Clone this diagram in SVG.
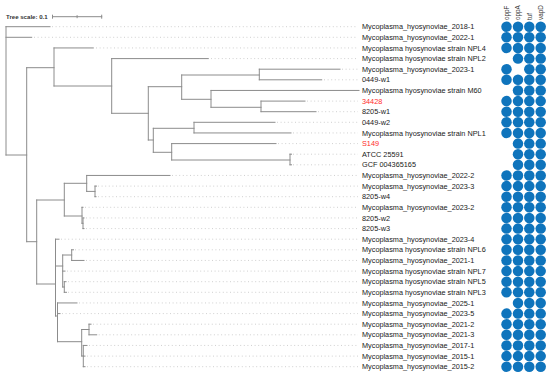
<svg xmlns="http://www.w3.org/2000/svg" width="550" height="378" viewBox="0 0 550 378">
<style>
.br{fill:none;stroke:#8c8c8c;stroke-width:1;stroke-linecap:square}
.ld{fill:none;stroke:#c4c4c4;stroke-width:0.8;stroke-dasharray:1 2.6}
.lb{font-family:"Liberation Sans",Arial,sans-serif;font-size:7.3px;fill:#1a1a1a}
.red{fill:#ff2b2b}
.hd{font-family:"Liberation Sans",Arial,sans-serif;font-size:6.3px;fill:#333}
.sc{font-family:"Liberation Sans",Arial,sans-serif;font-size:6.1px;font-weight:bold;fill:#333}
.dt{fill:#0f74bc}
</style>
<rect width="550" height="378" fill="#fff"/>
<g id="scale">
<text class="sc" x="6" y="19">Tree scale: 0.1</text>
<path class="br" d="M52.5,16.7H101.7M52.5,15.2V18.2M101.7,15.2V18.2M77.1,15.7V17.7" stroke-width="0.8"/>
</g>
<g id="headers">
<text class="hd" transform="translate(509,20) rotate(-90)">oppF</text>
<text class="hd" transform="translate(520.3,20) rotate(-90)">oppA</text>
<text class="hd" transform="translate(531.5,20) rotate(-90)">tuf</text>
<text class="hd" transform="translate(542.8,20) rotate(-90)">vapD</text>
</g>
<g id="connectors">
<g id="leaders">
<path class="ld" d="M52,26.7H358M34,37.3H358M96,47.95H358M211,58.6H358M342,69.2H358M324,79.8H358M307,101.1H358M318,111.7H358M277,122.3H358M293,132.95H358M278,143.6H358M293,154.2H358M293,164.8H358M172,175.45H358M98,186.1H358M98,196.7H358M85,207.3H358M86,217.95H358M86,228.6H358M61,239.2H358M75,249.8H358M86,260.45H358M67,271.1H358M68,281.7H358M68,292.3H358M79,302.95H358M62,313.6H358M93,324.2H358M98.7,334.8H358M89,345.45H358M87,356.1H358M87,366.7H358"/>
</g>
<g id="branches">
<path class="br" d="M6,26.7V155M6,26.7H50M6,37.3H31.7M6,155H26.7M26.7,67.7V241.7
M26.7,67.7H54M54,47.95V86M54,47.95H93.3M54,86H111.7M111.7,58.6V113.3M111.7,58.6H208.3
M111.7,113.3H148.3M148.3,86.7V140M148.3,86.7H181.7M181.7,75V99.3M181.7,75H259.3M259.3,69.2V79.8M259.3,69.2H340M259.3,79.8H321.7
M181.7,99.3H211M211,90.45V107.3M211,90.45H359M211,107.3H261M261,101.1V111.7M261,101.1H305M261,111.7H316
M148.3,140H153.3M153.3,128.3V152.3M153.3,128.3H194M194,122.3V132.95M194,122.3H275M194,132.95H291
M153.3,152.3H171.7M171.7,143.6V160M171.7,143.6H276M171.7,160H290M290,154.2V164.8M290,154.2H291.5M290,164.8H291.5
M26.7,241.7H36.7M36.7,200V284M36.7,200H64.3M64.3,183.3V216M64.3,183.3H86.7M86.7,175.45V191.4M86.7,175.45H170
M86.7,191.4H95M95,186.1V196.7M95,186.1H96.5M95,196.7H96
M64.3,216H82M82,207.3V223.3M82,207.3H83M82,223.3H83M83,217.95V228.6M83,217.95H84M83,228.6H84
M36.7,284H55.5M55.5,239.2V316M55.5,239.2H59M55.5,266H62.7M62.7,255V287M62.7,255H71.7M71.7,249.8V260.45M71.7,249.8H73.5M71.7,260.45H84
M62.7,271.1H65M62.7,287H64.3M64.3,281.7V292.3M64.3,281.7H66M64.3,292.3H66.5
M55.5,316H57.5M57.5,302.95V341.7M57.5,302.95H77M57.5,313.6H60M57.5,341.7H81.7M81.7,329.5V356
M81.7,329.5H89M89,324.2V334.8M89,324.2H91M89,334.8H96.7M81.7,356H83.3M83.3,345.45V366.7M83.3,345.45H87M83.3,356.1H85M83.3,366.7H85"/>
</g>
</g>
<defs>
<circle id="d" r="5.25" class="dt"/>
</defs>
<g id="leaf-2018-1"><text class="lb" x="362" y="29.3">Mycoplasma_hyosynoviae_2018-1</text><use href="#d" x="506.5" y="26.7"/><use href="#d" x="518" y="26.7"/><use href="#d" x="529.3" y="26.7"/><use href="#d" x="540.7" y="26.7"/></g>
<g id="leaf-2022-1"><text class="lb" x="362" y="39.9">Mycoplasma_hyosynoviae_2022-1</text><use href="#d" x="506.5" y="37.3"/><use href="#d" x="518" y="37.3"/><use href="#d" x="529.3" y="37.3"/><use href="#d" x="540.7" y="37.3"/></g>
<g id="leaf-NPL4"><text class="lb" x="362" y="50.55">Mycoplasma hyosynoviae strain NPL4</text><use href="#d" x="506.5" y="47.95"/><use href="#d" x="518" y="47.95"/><use href="#d" x="529.3" y="47.95"/><use href="#d" x="540.7" y="47.95"/></g>
<g id="leaf-NPL2"><text class="lb" x="362" y="61.2">Mycoplasma hyosynoviae strain NPL2</text><use href="#d" x="518" y="58.6"/><use href="#d" x="529.3" y="58.6"/><use href="#d" x="540.7" y="58.6"/></g>
<g id="leaf-2023-1"><text class="lb" x="362" y="71.8">Mycoplasma_hyosynoviae_2023-1</text><use href="#d" x="506.5" y="69.2"/><use href="#d" x="529.3" y="69.2"/><use href="#d" x="540.7" y="69.2"/></g>
<g id="leaf-0449-w1"><text class="lb" x="362" y="82.4">0449-w1</text><use href="#d" x="506.5" y="79.8"/><use href="#d" x="518" y="79.8"/><use href="#d" x="529.3" y="79.8"/><use href="#d" x="540.7" y="79.8"/></g>
<g id="leaf-M60"><text class="lb" x="362" y="93.05">Mycoplasma hyosynoviae strain M60</text><use href="#d" x="518" y="90.45"/><use href="#d" x="529.3" y="90.45"/><use href="#d" x="540.7" y="90.45"/></g>
<g id="leaf-34428"><text class="lb red" x="362" y="103.7">34428</text><use href="#d" x="506.5" y="101.1"/><use href="#d" x="518" y="101.1"/><use href="#d" x="529.3" y="101.1"/><use href="#d" x="540.7" y="101.1"/></g>
<g id="leaf-8205-w1"><text class="lb" x="362" y="114.3">8205-w1</text><use href="#d" x="506.5" y="111.7"/><use href="#d" x="518" y="111.7"/><use href="#d" x="529.3" y="111.7"/><use href="#d" x="540.7" y="111.7"/></g>
<g id="leaf-0449-w2"><text class="lb" x="362" y="124.9">0449-w2</text><use href="#d" x="506.5" y="122.3"/><use href="#d" x="518" y="122.3"/><use href="#d" x="529.3" y="122.3"/><use href="#d" x="540.7" y="122.3"/></g>
<g id="leaf-NPL1"><text class="lb" x="362" y="135.55">Mycoplasma hyosynoviae strain NPL1</text><use href="#d" x="506.5" y="132.95"/><use href="#d" x="518" y="132.95"/><use href="#d" x="529.3" y="132.95"/><use href="#d" x="540.7" y="132.95"/></g>
<g id="leaf-S149"><text class="lb red" x="362" y="146.2">S149</text><use href="#d" x="518" y="143.6"/><use href="#d" x="529.3" y="143.6"/><use href="#d" x="540.7" y="143.6"/></g>
<g id="leaf-ATCC25591"><text class="lb" x="362" y="156.8">ATCC 25591</text><use href="#d" x="518" y="154.2"/><use href="#d" x="529.3" y="154.2"/><use href="#d" x="540.7" y="154.2"/></g>
<g id="leaf-GCF004365165"><text class="lb" x="362" y="167.4">GCF 004365165</text><use href="#d" x="518" y="164.8"/><use href="#d" x="529.3" y="164.8"/><use href="#d" x="540.7" y="164.8"/></g>
<g id="leaf-2022-2"><text class="lb" x="362" y="178.05">Mycoplasma_hyosynoviae_2022-2</text><use href="#d" x="506.5" y="175.45"/><use href="#d" x="518" y="175.45"/><use href="#d" x="529.3" y="175.45"/><use href="#d" x="540.7" y="175.45"/></g>
<g id="leaf-2023-3"><text class="lb" x="362" y="188.7">Mycoplasma_hyosynoviae_2023-3</text><use href="#d" x="506.5" y="186.1"/><use href="#d" x="518" y="186.1"/><use href="#d" x="529.3" y="186.1"/><use href="#d" x="540.7" y="186.1"/></g>
<g id="leaf-8205-w4"><text class="lb" x="362" y="199.3">8205-w4</text><use href="#d" x="506.5" y="196.7"/><use href="#d" x="518" y="196.7"/><use href="#d" x="529.3" y="196.7"/><use href="#d" x="540.7" y="196.7"/></g>
<g id="leaf-2023-2"><text class="lb" x="362" y="209.9">Mycoplasma_hyosynoviae_2023-2</text><use href="#d" x="506.5" y="207.3"/><use href="#d" x="518" y="207.3"/><use href="#d" x="529.3" y="207.3"/><use href="#d" x="540.7" y="207.3"/></g>
<g id="leaf-8205-w2"><text class="lb" x="362" y="220.55">8205-w2</text><use href="#d" x="506.5" y="217.95"/><use href="#d" x="518" y="217.95"/><use href="#d" x="529.3" y="217.95"/><use href="#d" x="540.7" y="217.95"/></g>
<g id="leaf-8205-w3"><text class="lb" x="362" y="231.2">8205-w3</text><use href="#d" x="506.5" y="228.6"/><use href="#d" x="518" y="228.6"/><use href="#d" x="529.3" y="228.6"/><use href="#d" x="540.7" y="228.6"/></g>
<g id="leaf-2023-4"><text class="lb" x="362" y="241.8">Mycoplasma_hyosynoviae_2023-4</text><use href="#d" x="506.5" y="239.2"/><use href="#d" x="518" y="239.2"/><use href="#d" x="529.3" y="239.2"/><use href="#d" x="540.7" y="239.2"/></g>
<g id="leaf-NPL6"><text class="lb" x="362" y="252.4">Mycoplasma hyosynoviae strain NPL6</text><use href="#d" x="506.5" y="249.8"/><use href="#d" x="518" y="249.8"/><use href="#d" x="529.3" y="249.8"/><use href="#d" x="540.7" y="249.8"/></g>
<g id="leaf-2021-1"><text class="lb" x="362" y="263.05">Mycoplasma_hyosynoviae_2021-1</text><use href="#d" x="506.5" y="260.45"/><use href="#d" x="518" y="260.45"/><use href="#d" x="529.3" y="260.45"/><use href="#d" x="540.7" y="260.45"/></g>
<g id="leaf-NPL7"><text class="lb" x="362" y="273.7">Mycoplasma hyosynoviae strain NPL7</text><use href="#d" x="506.5" y="271.1"/><use href="#d" x="518" y="271.1"/><use href="#d" x="529.3" y="271.1"/><use href="#d" x="540.7" y="271.1"/></g>
<g id="leaf-NPL5"><text class="lb" x="362" y="284.3">Mycoplasma hyosynoviae strain NPL5</text><use href="#d" x="506.5" y="281.7"/><use href="#d" x="518" y="281.7"/><use href="#d" x="529.3" y="281.7"/><use href="#d" x="540.7" y="281.7"/></g>
<g id="leaf-NPL3"><text class="lb" x="362" y="294.9">Mycoplasma hyosynoviae strain NPL3</text><use href="#d" x="506.5" y="292.3"/><use href="#d" x="518" y="292.3"/><use href="#d" x="529.3" y="292.3"/><use href="#d" x="540.7" y="292.3"/></g>
<g id="leaf-2025-1"><text class="lb" x="362" y="305.55">Mycoplasma_hyosynoviae_2025-1</text><use href="#d" x="518" y="302.95"/><use href="#d" x="529.3" y="302.95"/><use href="#d" x="540.7" y="302.95"/></g>
<g id="leaf-2023-5"><text class="lb" x="362" y="316.2">Mycoplasma_hyosynoviae_2023-5</text><use href="#d" x="506.5" y="313.6"/><use href="#d" x="518" y="313.6"/><use href="#d" x="529.3" y="313.6"/><use href="#d" x="540.7" y="313.6"/></g>
<g id="leaf-2021-2"><text class="lb" x="362" y="326.8">Mycoplasma_hyosynoviae_2021-2</text><use href="#d" x="506.5" y="324.2"/><use href="#d" x="518" y="324.2"/><use href="#d" x="529.3" y="324.2"/><use href="#d" x="540.7" y="324.2"/></g>
<g id="leaf-2021-3"><text class="lb" x="362" y="337.4">Mycoplasma_hyosynoviae_2021-3</text><use href="#d" x="506.5" y="334.8"/><use href="#d" x="518" y="334.8"/><use href="#d" x="529.3" y="334.8"/><use href="#d" x="540.7" y="334.8"/></g>
<g id="leaf-2017-1"><text class="lb" x="362" y="348.05">Mycoplasma_hyosynoviae_2017-1</text><use href="#d" x="506.5" y="345.45"/><use href="#d" x="518" y="345.45"/><use href="#d" x="529.3" y="345.45"/><use href="#d" x="540.7" y="345.45"/></g>
<g id="leaf-2015-1"><text class="lb" x="362" y="358.7">Mycoplasma_hyosynoviae_2015-1</text><use href="#d" x="506.5" y="356.1"/><use href="#d" x="518" y="356.1"/><use href="#d" x="529.3" y="356.1"/><use href="#d" x="540.7" y="356.1"/></g>
<g id="leaf-2015-2"><text class="lb" x="362" y="369.3">Mycoplasma_hyosynoviae_2015-2</text><use href="#d" x="506.5" y="366.7"/><use href="#d" x="518" y="366.7"/><use href="#d" x="529.3" y="366.7"/><use href="#d" x="540.7" y="366.7"/></g>
</svg>
